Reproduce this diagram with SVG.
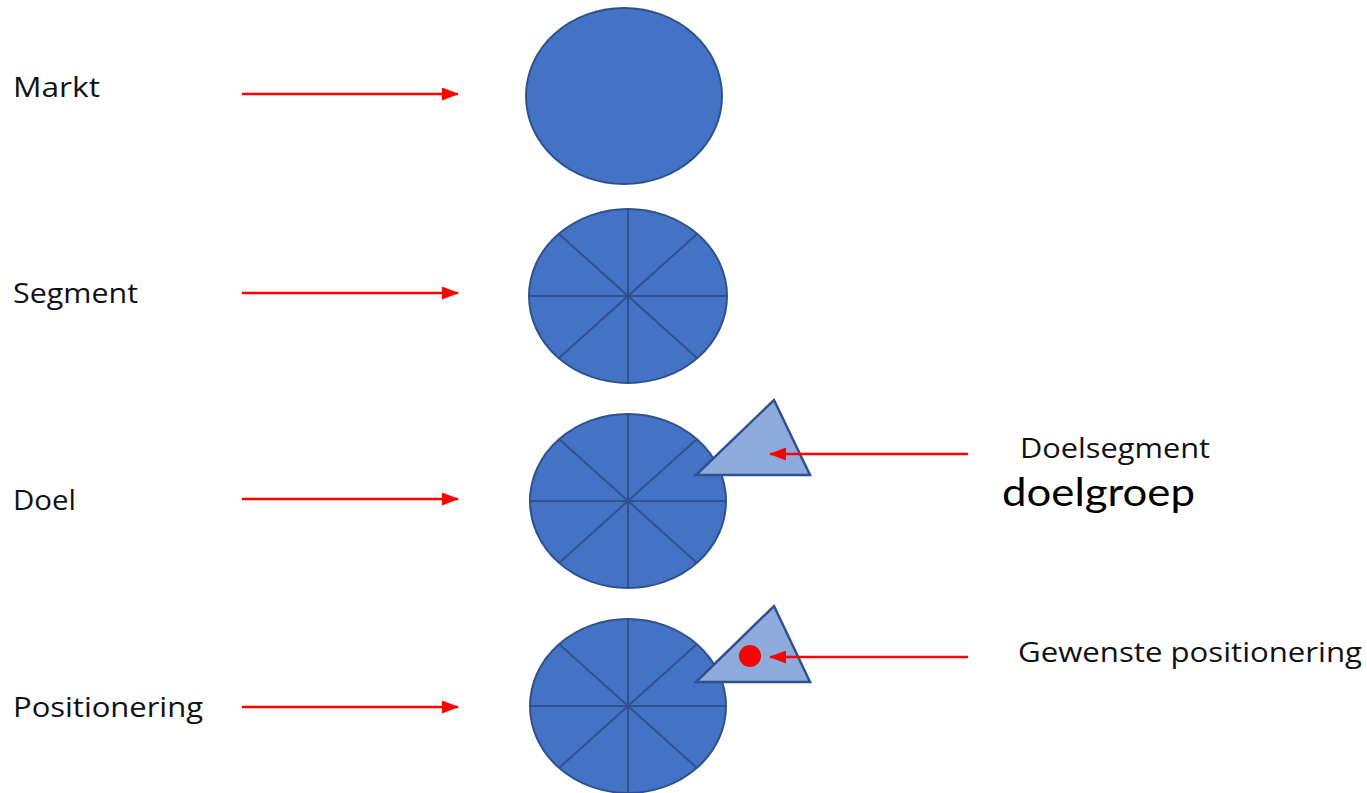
<svg xmlns="http://www.w3.org/2000/svg" width="1367" height="793" viewBox="0 0 1367 793">
<style>
.lbl{font-family:"Open Sans",Lato,sans-serif;font-size:27px;font-weight:500;fill:#111}
.big{font-family:Lato,"Open Sans",sans-serif;font-size:39px;fill:#000}
.disc{fill:#4472C4;stroke:#2F528F;stroke-width:2}
.spoke{stroke:#2F528F;stroke-width:2}
.tri{fill:#8FAADC;stroke:#2F528F;stroke-width:2.5;stroke-linejoin:miter}
.arr{stroke:#FF0000;stroke-width:2.5;fill:none;marker-end:url(#ah)}
</style>
<defs>
<marker id="ah" markerWidth="17" markerHeight="13" refX="16" refY="6.5" orient="auto" markerUnits="userSpaceOnUse">
<path d="M0,0 L17,6.5 L0,13 Z" fill="#FF0000"/>
</marker>
<g id="spokes">
<line class="spoke" x1="-98" y1="0" x2="98" y2="0"/>
<line class="spoke" x1="0" y1="-87" x2="0" y2="87"/>
<line class="spoke" x1="-69" y1="-62" x2="69" y2="62"/>
<line class="spoke" x1="-69" y1="62" x2="69" y2="-62"/>
</g>
</defs>
<rect width="1367" height="793" fill="#FFFFFF"/>

<g id="markt">
<text class="lbl" x="13" y="97" textLength="87" lengthAdjust="spacingAndGlyphs">Markt</text>
<ellipse class="disc" cx="624" cy="96" rx="98" ry="88"/>
</g>

<g id="segment">
<text class="lbl" x="13" y="303" textLength="125" lengthAdjust="spacingAndGlyphs">Segment</text>
<ellipse class="disc" cx="628" cy="296" rx="99" ry="87"/>
<use href="#spokes" x="628" y="296"/>
</g>

<g id="doel">
<text class="lbl" x="13" y="510" textLength="63" lengthAdjust="spacingAndGlyphs">Doel</text>
<ellipse class="disc" cx="628" cy="501" rx="98" ry="87"/>
<use href="#spokes" x="628" y="501"/>
<polygon class="tri" points="774,400 810,475 696,475"/>
</g>

<g id="doelsegment">
<text class="lbl" x="1020" y="458" textLength="190" lengthAdjust="spacingAndGlyphs">Doelsegment</text>
<text class="big" x="1002" y="506" textLength="193" lengthAdjust="spacingAndGlyphs">doelgroep</text>
</g>

<g id="positionering">
<text class="lbl" x="13" y="717" textLength="190" lengthAdjust="spacingAndGlyphs">Positionering</text>
<ellipse class="disc" cx="628" cy="706" rx="98" ry="87"/>
<use href="#spokes" x="628" y="706"/>
<polygon class="tri" points="774,606 810,682 696,682"/>
<circle cx="750" cy="656" r="11" fill="#FF0000"/>
</g>

<g id="gewenste">
<text class="lbl" x="1018" y="662" textLength="344" lengthAdjust="spacingAndGlyphs">Gewenste positionering</text>
</g>

<g id="connectors">
<line class="arr" x1="242" y1="94" x2="458" y2="94"/>
<line class="arr" x1="242" y1="293" x2="458" y2="293"/>
<line class="arr" x1="242" y1="499" x2="458" y2="499"/>
<line class="arr" x1="242" y1="707" x2="458" y2="707"/>
<line class="arr" x1="968" y1="454" x2="770" y2="454"/>
<line class="arr" x1="968" y1="657" x2="770" y2="657"/>
</g>
</svg>
